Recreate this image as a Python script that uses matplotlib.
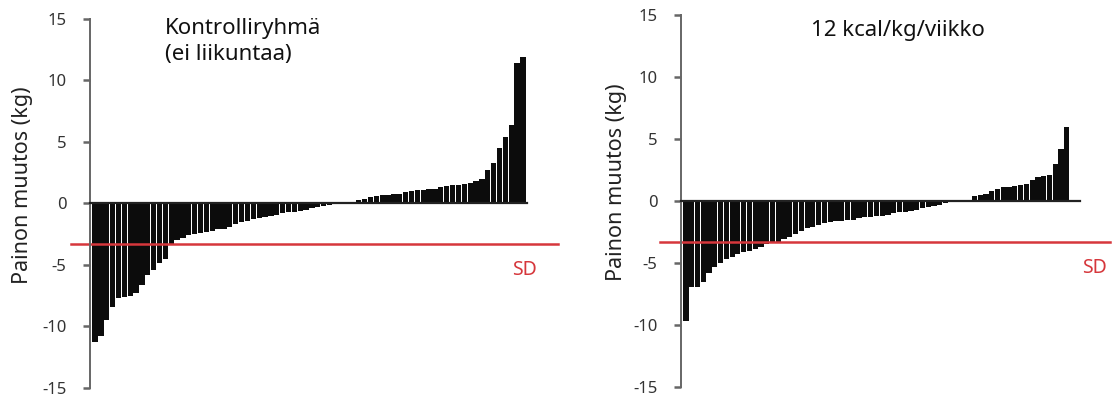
import matplotlib
matplotlib.use('Agg')
import matplotlib.pyplot as plt

plt.rcParams['font.family'] = ['Noto Sans', 'DejaVu Sans']
plt.rcParams['axes.unicode_minus'] = False

# weight change per person (kg), sorted
control = [-11.3, -10.8, -9.5, -8.4, -7.7, -7.6, -7.5, -7.3, -6.6, -5.8,
           -5.4, -4.8, -4.5, -3.4, -3.0, -2.8, -2.6, -2.5, -2.4, -2.3,
           -2.2, -2.1, -2.1, -1.9, -1.7, -1.5, -1.4, -1.3, -1.2, -1.1,
           -1.0, -0.9, -0.8, -0.7, -0.7, -0.6, -0.5, -0.4, -0.3, -0.2,
           -0.1, 0.0, 0.0, 0.0, 0.1, 0.3, 0.4, 0.5, 0.6, 0.7,
           0.7, 0.8, 0.8, 0.9, 1.0, 1.1, 1.1, 1.2, 1.2, 1.3,
           1.4, 1.5, 1.5, 1.6, 1.7, 1.8, 2.0, 2.7, 3.3, 4.5,
           5.4, 6.4, 11.4, 11.9]
kcal12 = [-9.7, -6.9, -6.9, -6.5, -5.8, -5.3, -5.0, -4.7, -4.5, -4.3,
          -4.1, -4.0, -3.9, -3.7, -3.5, -3.4, -3.3, -3.1, -2.9, -2.7,
          -2.4, -2.2, -2.1, -1.9, -1.8, -1.7, -1.6, -1.6, -1.5, -1.5,
          -1.4, -1.3, -1.3, -1.2, -1.2, -1.1, -1.0, -0.9, -0.9, -0.8,
          -0.7, -0.6, -0.5, -0.4, -0.3, -0.2, -0.1, 0.0, 0.0, 0.1,
          0.4, 0.5, 0.6, 0.8, 1.0, 1.1, 1.1, 1.2, 1.3, 1.4,
          1.7, 1.9, 2.0, 2.1, 3.0, 4.2, 6.0]
sd_level = -3.3
yticks = [-15, -10, -5, 0, 5, 10, 15]
titles = ['Kontrolliryhmä\n(ei liikuntaa)', '12 kcal/kg/viikko']

red = '#d6373c'
grey = '#666666'

fig = plt.figure(figsize=(11.13, 3.97), dpi=100)
ax1 = fig.add_axes([0.0809, 0.0227, 0.3926, 0.9295])
ax2 = fig.add_axes([0.6119, 0.0252, 0.3585, 0.937])

for ax, vals, extra, labx in [(ax1, control, 0.7, -0.13), (ax2, kcal12, 2.3, -0.135)]:
    ax.bar(range(len(vals)), vals, width=0.9, color='#0c0c0c', linewidth=0)
    ax.set_xlim(-0.85, len(vals) - 1 + extra)
    ax.set_ylim(-15, 15)
    ax.set_yticks(yticks)
    ax.set_xticks([])
    ax.spines['top'].set_visible(False)
    ax.spines['right'].set_visible(False)
    ax.spines['bottom'].set_position(('data', 0))
    ax.spines['bottom'].set_color('#222222')
    ax.spines['bottom'].set_linewidth(1.6)
    ax.spines['left'].set_color(grey)
    ax.spines['left'].set_linewidth(1.4)
    ax.tick_params(axis='y', length=5, width=1.8, color=grey,
                   labelsize=12, labelcolor='#333333', pad=12)
    ax.set_ylabel('Painon muutos (kg)', fontsize=15.5, color='#222222')
    ax.yaxis.set_label_coords(labx, 0.55)

# SD lines, running outside the axes
ax1.axhline(sd_level, xmin=-0.043, xmax=1.07, color=red, lw=1.8, clip_on=False)
ax2.axhline(sd_level, xmin=-0.053, xmax=1.074, color=red, lw=1.8, clip_on=False)
ax1.text(0.995, -4.6, 'SD', transform=ax1.get_yaxis_transform(), color=red,
         fontsize=14, ha='center', va='top')
ax2.text(1.035, -4.6, 'SD', transform=ax2.get_yaxis_transform(), color=red,
         fontsize=14, ha='center', va='top')

fig.text(165 / 1113, 1 - 18 / 397, titles[0], fontsize=16, color='#111111',
         ha='left', va='top', linespacing=1.3)
fig.text(898 / 1113, 1 - 20 / 397, titles[1], fontsize=16, color='#111111',
         ha='center', va='top')

fig.savefig('out.png', dpi=100)
